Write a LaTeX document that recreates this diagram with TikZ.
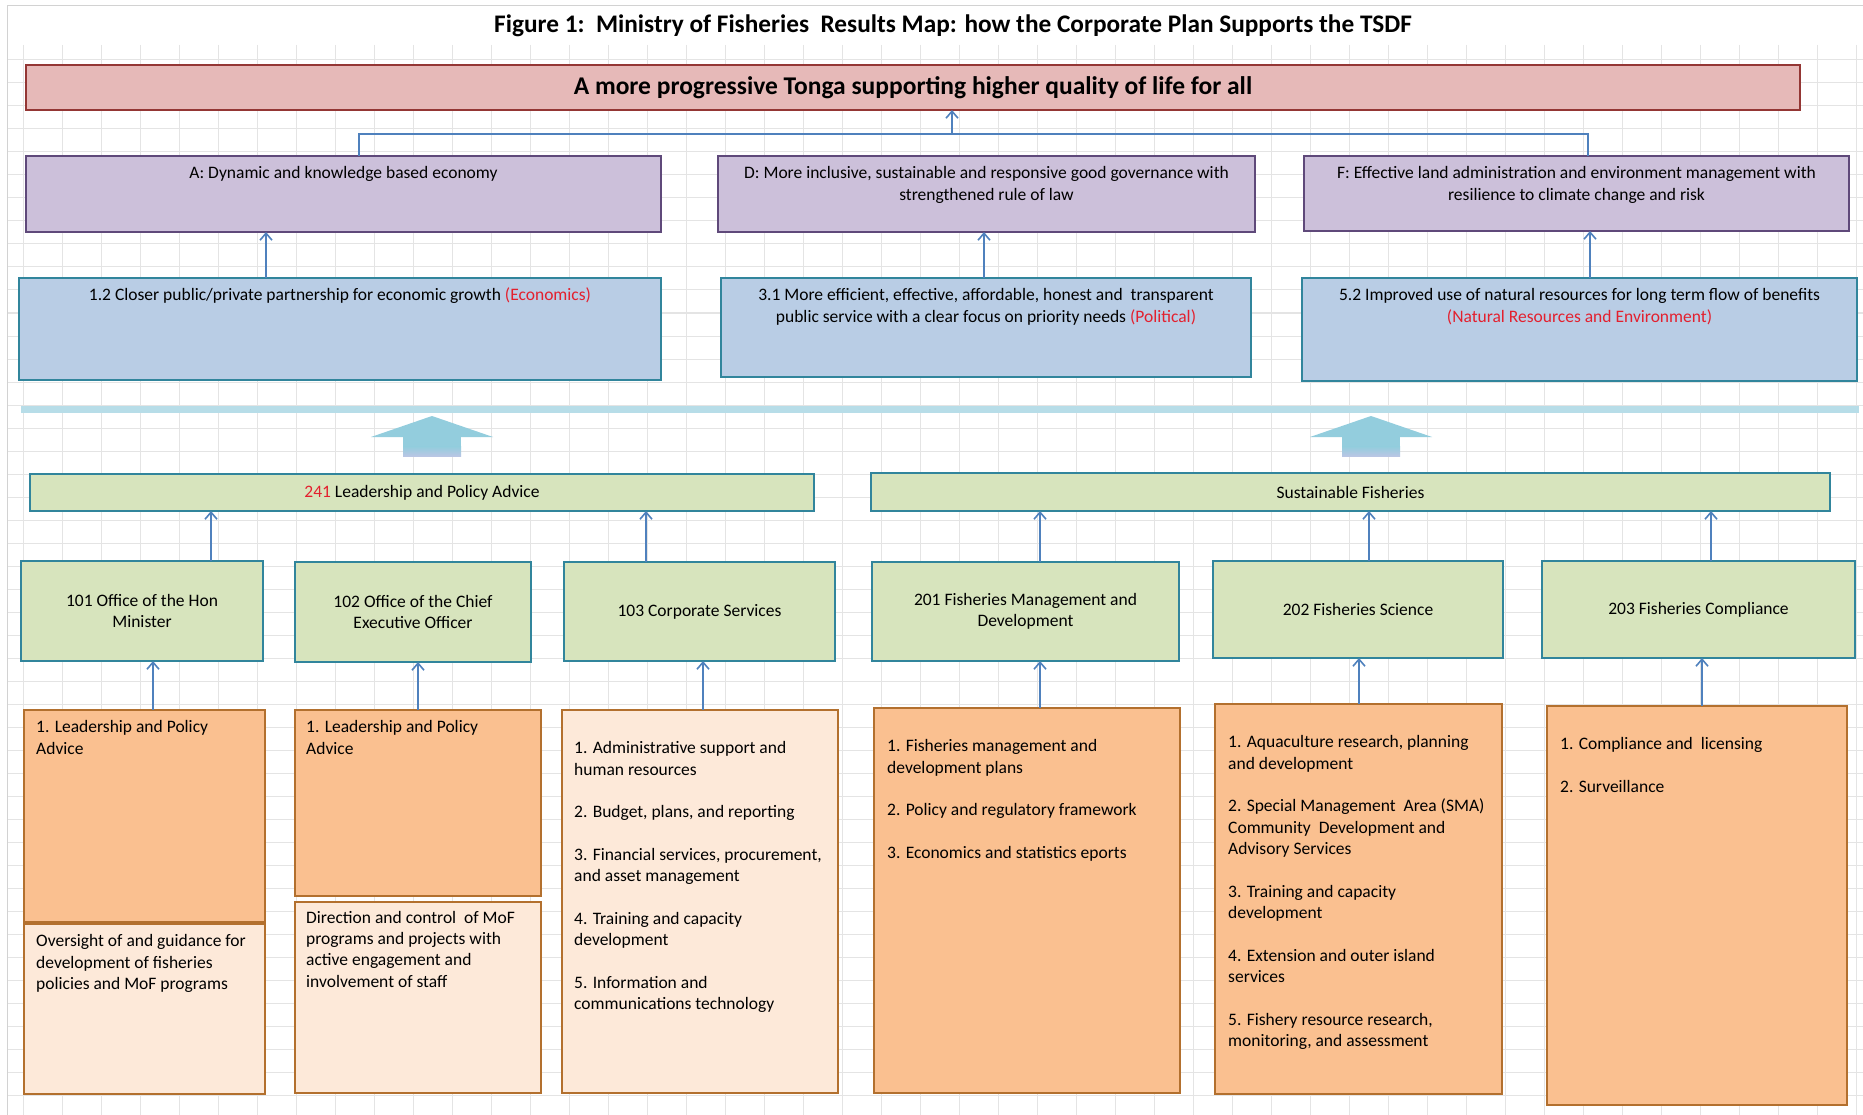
\documentclass[tikz,border=0pt]{standalone}
\usepackage{fontspec}
\setmainfont{Carlito}
\usetikzlibrary{arrows.meta,calc}

\definecolor{redfill}{HTML}{E6B9B8}
\definecolor{reddraw}{HTML}{943634}
\definecolor{purfill}{HTML}{CCC0DA}
\definecolor{purdraw}{HTML}{5F497A}
\definecolor{bluefill}{HTML}{B9CDE5}
\definecolor{tealdraw}{HTML}{31859C}
\definecolor{grnfill}{HTML}{D7E4BD}
\definecolor{orgfill}{HTML}{FAC090}
\definecolor{orglight}{HTML}{FDE9D9}
\definecolor{orgdraw}{HTML}{B3702E}
\definecolor{connc}{HTML}{4F81BD}
\definecolor{barc}{HTML}{B7DDE8}
\definecolor{arrc}{HTML}{93CDDD}
\definecolor{arrlow}{HTML}{B9C6E4}
\definecolor{gridc}{HTML}{E4E4E4}
\definecolor{txtred}{HTML}{E3202E}

\newcommand\mkbox[7]{\node[#2, minimum width=#5-#3, minimum height=#6-#4, anchor=north west] (#1) at (#3,#4) {#7};}

\tikzset{
  basefont/.style={font=\fontsize{17.5}{21.4}\selectfont},
  boxbase/.style={draw, line width=2.7pt, inner sep=0pt, outer sep=0pt, basefont, align=center},
  goalbox/.style={boxbase, fill=redfill, draw=reddraw, font=\bfseries\fontsize{25.5}{30}\selectfont},
  purbox/.style={boxbase, fill=purfill, draw=purdraw},
  bluebox/.style={boxbase, fill=bluefill, draw=tealdraw},
  grnbox/.style={boxbase, fill=grnfill, draw=tealdraw},
  orgbox/.style={boxbase, fill=orgfill, draw=orgdraw},
  orglbox/.style={boxbase, fill=orglight, draw=orgdraw},
  toptxt/.style={basefont, inner sep=0pt, anchor=north, align=center},
  listtxt/.style={basefont, inner sep=0pt, anchor=north west, align=left},
  conn/.style={draw=connc, line width=1.6pt, -{Straight Barb[length=7pt,width=12pt,line width=1.6pt]}},
  connl/.style={draw=connc, line width=1.6pt},
}

\begin{document}
\begin{tikzpicture}[x=1pt,y=-1pt]
\useasboundingbox (0,0) rectangle (1863,1115);
\fill[white] (0,0) rectangle (1863,1115);

% spreadsheet grid
\foreach \x in {23,62,...,1862} \draw[gridc, line width=1pt] (\x,45) -- (\x,1115);
\foreach \y in {60,83,...,1115} \draw[gridc, line width=1pt] (7,\y) -- (1863,\y);
\draw[gray!35, line width=1pt] (7,1115) -- (7,6) -- (1863,6);

% title
\node[font=\bfseries\fontsize{25.3}{30}\selectfont, inner sep=0pt] (title) at (953,26)
  {Figure 1:\ \ Ministry of Fisheries\ \ Results Map: how the Corporate Plan Supports the TSDF};

% goal
\mkbox{goal}{goalbox}{26}{65}{1800}{110}{A more progressive Tonga supporting higher quality of life for all}

% purple outcomes
\mkbox{purA}{purbox}{26}{156}{661}{232}{}
\mkbox{purD}{purbox}{718}{156}{1255}{232}{}
\mkbox{purF}{purbox}{1304}{156}{1849}{231}{}
\node[toptxt] (purA-t) at ([yshift=-7.5pt]purA.north) {\strut A: Dynamic and knowledge based economy};
\node[toptxt] (purD-t) at ([yshift=-7.5pt]purD.north) {\strut D: More inclusive, sustainable and responsive good governance with\\strengthened rule of law};
\node[toptxt] (purF-t) at ([yshift=-7.5pt]purF.north) {\strut F: Effective land administration and environment management with\\resilience to climate change and risk};

% blue outcomes
\mkbox{blue12}{bluebox}{19}{278}{661}{380}{}
\mkbox{blue31}{bluebox}{721}{278}{1251}{377}{}
\mkbox{blue52}{bluebox}{1302}{278}{1857}{381}{}
\node[toptxt] (blue12-t) at ([yshift=-7.5pt]blue12.north) {\strut 1.2 Closer public/private partnership for economic growth \textcolor{txtred}{(Economics)}};
\node[toptxt] (blue31-t) at ([yshift=-7.5pt]blue31.north) {\strut 3.1 More efficient, effective, affordable, honest and\ \ transparent\\public service with a clear focus on priority needs \textcolor{txtred}{(Political)}};
\node[toptxt] (blue52-t) at ([yshift=-7.5pt]blue52.north) {\strut 5.2 Improved use of natural resources for long term flow of benefits\\\textcolor{txtred}{(Natural Resources and Environment)}};

% connectors top
\path ([xshift=333pt]purA.north west) coordinate (jA)
      ([xshift=284pt]purF.north west) coordinate (jF)
      ([xshift=926pt]goal.south west) coordinate (jG);
\coordinate (jy) at (0,134);
\draw[connl] (jA) -- (jA |- jy) -- (jF |- jy) -- (jF);
\draw[conn] (jG |- jy) -- (jG);

\path ([xshift=247pt]blue12.north west) coordinate (b1)
      ([xshift=263pt]blue31.north west) coordinate (b2)
      ([xshift=288pt]blue52.north west) coordinate (b3);
\draw[conn] (b1) -- (b1 |- purA.south);
\draw[conn] (b2) -- (b2 |- purD.south);
\draw[conn] (b3) -- (b3 |- purF.south);

% separator bar and block arrows
\fill[barc] (21,406) rectangle (1859,413);
\foreach \cx in {432,1371}{
  \fill[arrc] (\cx-61,437) -- (\cx,416) -- (\cx+61,437) -- cycle;
  \fill[arrc] (\cx-29,436.5) rectangle (\cx+29,447);
  \shade[top color=arrc, bottom color=arrlow] (\cx-29,446.5) rectangle (\cx+29,456);
}

% programme bars
\mkbox{bar241}{grnbox}{30}{474}{814}{511}{\textcolor{txtred}{241} Leadership and Policy Advice}
\mkbox{barSF}{grnbox}{871}{473}{1830}{511}{Sustainable Fisheries}

% sub-programme boxes
\mkbox{p101}{grnbox}{21}{561}{263}{661}{101 Office of the Hon\\Minister}
\mkbox{p102}{grnbox}{295}{562}{531}{662}{102 Office of the Chief\\Executive Officer}
\mkbox{p103}{grnbox}{564}{562}{835}{661}{103 Corporate Services}
\mkbox{p201}{grnbox}{872}{562}{1179}{661}{201 Fisheries Management and\\Development}
\mkbox{p202}{grnbox}{1213}{561}{1503}{658}{202 Fisheries Science}
\mkbox{p203}{grnbox}{1542}{561}{1855}{658}{203 Fisheries Compliance}

\path ([xshift=190pt]p101.north west) coordinate (g1)
      ([xshift=82pt]p103.north west) coordinate (g3)
      ([xshift=168pt]p201.north west) coordinate (g4)
      ([xshift=156pt]p202.north west) coordinate (g5)
      ([xshift=169pt]p203.north west) coordinate (g6);
\draw[conn] (g1) -- (g1 |- bar241.south);
\draw[conn] (g3) -- (g3 |- bar241.south);
\draw[conn] (g4) -- (g4 |- barSF.south);
\draw[conn] (g5) -- (g5 |- barSF.south);
\draw[conn] (g6) -- (g6 |- barSF.south);

% output boxes
\mkbox{o101}{orgbox}{24}{710}{265}{922}{}
\mkbox{o101b}{orglbox}{24}{924}{265}{1094}{}
\mkbox{o102}{orgbox}{295}{710}{541}{896}{}
\mkbox{o102b}{orglbox}{295}{902}{541}{1093}{}
\mkbox{o103}{orglbox}{562}{710}{838}{1093}{}
\mkbox{o201}{orgbox}{874}{708}{1180}{1093}{}
\mkbox{o202}{orgbox}{1215}{704}{1502}{1094}{}
\mkbox{o203}{orgbox}{1547}{706}{1847}{1105}{}

\node[listtxt] (o101-t) at ([xshift=12pt,yshift=-7.5pt]o101.north west) {\strut 1. Leadership and Policy\\Advice};
\node[listtxt] (o101b-t) at ([xshift=12pt,yshift=-7.5pt]o101b.north west) {\strut Oversight of and guidance for\\development of fisheries\\policies and MoF programs};
\node[listtxt] (o102-t) at ([xshift=11pt,yshift=-7.5pt]o102.north west) {\strut 1. Leadership and Policy\\Advice};
\node[listtxt] (o102b-t) at ([xshift=11pt,yshift=-6pt]o102b.north west) {\strut Direction and control\ \ of MoF\\programs and projects with\\active engagement and\\involvement of staff};
\node[listtxt] (o103-t) at ([xshift=12pt,yshift=-28.5pt]o103.north west) {\strut 1. Administrative support and\\human resources\\[21.2pt]2. Budget, plans, and reporting\\[21.2pt]3. Financial services, procurement,\\and asset management\\[21.2pt]4. Training and capacity\\development\\[21.2pt]5. Information and\\communications technology};
\node[listtxt] (o201-t) at ([xshift=13pt,yshift=-28.5pt]o201.north west) {\strut 1. Fisheries management and\\development plans\\[21.2pt]2. Policy and regulatory framework\\[21.2pt]3. Economics and statistics eports};
\node[listtxt] (o202-t) at ([xshift=13pt,yshift=-28.5pt]o202.north west) {\strut 1. Aquaculture research, planning\\and development\\[21.2pt]2. Special Management\ \ Area (SMA)\\Community\ \ Development and\\Advisory Services\\[21.2pt]3. Training and capacity\\development\\[21.2pt]4. Extension and outer island\\services\\[21.2pt]5. Fishery resource research,\\monitoring, and assessment};
\node[listtxt] (o203-t) at ([xshift=13pt,yshift=-28.5pt]o203.north west) {\strut 1. Compliance and\ \ licensing\\[21.2pt]2. Surveillance};

\path ([xshift=129pt]o101.north west) coordinate (r1)
      ([xshift=123pt]o102.north west) coordinate (r2)
      ([xshift=141pt]o103.north west) coordinate (r3)
      ([xshift=166pt]o201.north west) coordinate (r4)
      ([xshift=144pt]o202.north west) coordinate (r5)
      ([xshift=155pt]o203.north west) coordinate (r6);
\draw[conn] (r1) -- (r1 |- p101.south);
\draw[conn] (r2) -- (r2 |- p102.south);
\draw[conn] (r3) -- (r3 |- p103.south);
\draw[conn] (r4) -- (r4 |- p201.south);
\draw[conn] (r5) -- (r5 |- p202.south);
\draw[conn] (r6) -- (r6 |- p203.south);
\end{tikzpicture}
\end{document}
